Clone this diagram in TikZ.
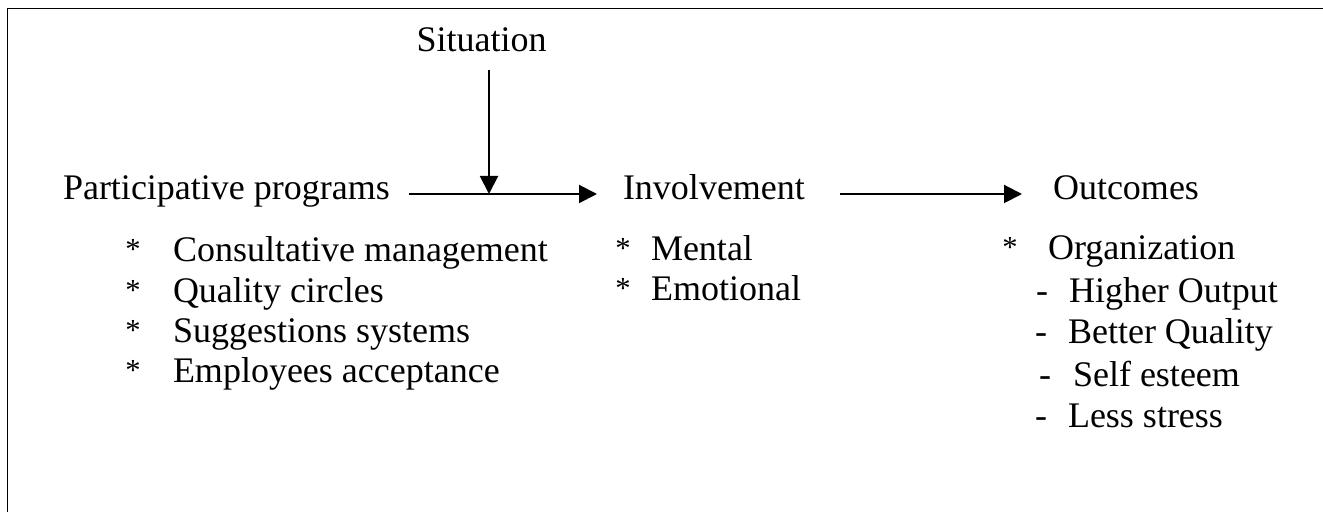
\documentclass[tikz,border=0pt]{standalone}
\usepackage{fontspec}
\setmainfont{Liberation Serif}
\usetikzlibrary{arrows.meta,calc}
\newcommand{\smallstar}{\raisebox{1pt}{\scalebox{0.85}{*}}}
\tikzset{
  head/.style={anchor=base west,inner sep=0pt,text height=0.7em,text depth=0.1em},
  itm/.style={anchor=base west,inner sep=0pt},
  bul/.style={anchor=base,inner sep=0pt},
}
\begin{document}
\begin{tikzpicture}[>={Triangle[length=9pt,width=9pt]},x=0.5pt,y=-0.5pt,font=\fontsize{18}{22}\selectfont,line width=1pt]
			\useasboundingbox (0,0) rectangle (1323,512);
			\draw[line width=0.75pt] (7.5,512) -- (7.5,8.5) -- (1323,8.5);
			\node[bul] (sit) at (481.5,52) {Situation};
			\node[head] (pp) at (62,200) {Participative programs};
			\node[head] (inv) at (622,200) {Involvement};
			\node[head] (out) at (1052,200) {Outcomes};
			\coordinate (meet) at (489,189);
			\draw[->] ([xshift=9pt]pp.east) -- ([xshift=-12.5pt]inv.west);
			\draw[->] ($(sit.south -| meet)+(0,17)$) -- (meet |- pp.east);
			\draw[->] ([xshift=17pt]inv.east) -- ([xshift=-15pt]out.west);
			\foreach \y/\txt [count=\i] in {262/Consultative management,302.5/Quality circles,343/Suggestions systems,383/Employees acceptance}{
				\node[bul] (ps\i) at (133,\y) {\smallstar};
				\node[itm] (p\i) at (172,\y) {\txt};
			}
			\foreach \y/\txt [count=\i] in {261/Mental,301/Emotional}{
				\node[bul] (is\i) at (623,\y) {\smallstar};
				\node[itm] (i\i) at (650,\y) {\txt};
			}
			\node[bul] (os) at (1010,260) {\smallstar};
			\node[itm] (o0) at (1047,260) {Organization};
			\foreach \dx/\tx/\y/\txt [count=\i] in {1042/1068/303/Higher Output,1041/1067/344/Better Quality,1045/1072/387/Self esteem,1041/1067/428/Less stress}{
				\node[bul] (od\i) at (\dx,\y) {-};
				\node[itm] (o\i) at (\tx,\y) {\txt};
			}
		\end{tikzpicture}
\end{document}
